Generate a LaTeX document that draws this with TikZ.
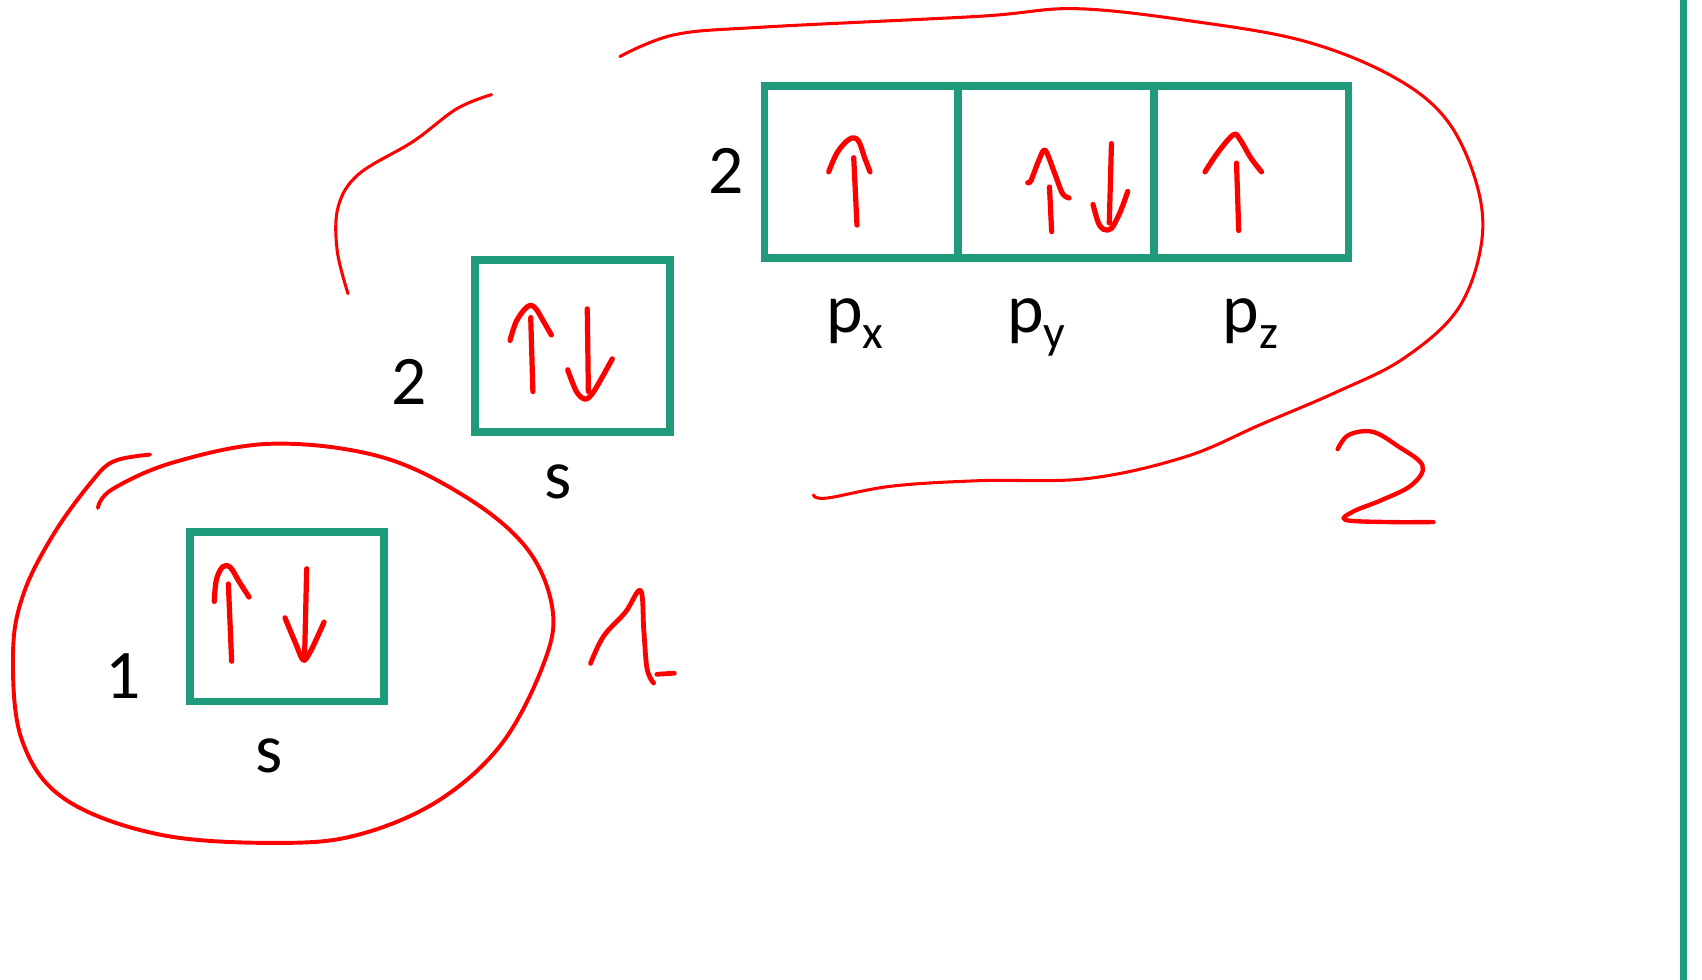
\documentclass[tikz,border=0pt]{standalone}
\usepackage{fontspec}
\setmainfont{Carlito}
\definecolor{grn}{RGB}{31,154,122}
\definecolor{rd}{RGB}{255,0,0}
\begin{document}
\begin{tikzpicture}[x=0.5pt,y=-0.5pt,
  gbox/.style={draw=grn,line width=3.6pt,inner sep=0pt,outer sep=0pt},
  lbl/.style={inner sep=0pt,font=\fontsize{32}{36}\selectfont,anchor=base},
  ink/.style={draw=rd,line width=1.6pt,line cap=round,line join=round},
  spin/.style={draw=rd,line width=2.4pt,line cap=round,line join=round}]
\useasboundingbox (0,0) rectangle (1565,901);
% green divider line
\coordinate (vt) at (1548,0);
\coordinate (vb) at (1548,901);
\draw[grn,line width=3.2pt] (vt) -- (vb);
% boxes
\node[gbox,minimum width=89pt,minimum height=78pt] (b1) at (264,567) {};
\node[gbox,minimum width=89.5pt,minimum height=79pt] (b2) at (526.5,318) {};
\node[gbox,minimum width=89pt,minimum height=79pt] (px) at (792,158) {};
\node[gbox,minimum width=90pt,minimum height=79pt] (py) at (971,158) {};
\node[gbox,minimum width=89.5pt,minimum height=79pt] (pz) at (1150.5,158) {};
% labels
\node[lbl] (n1) at (113,642) {1};
\node[lbl] (s1) at (247,710) {s};
\node[lbl] (n2) at (376,372) {2};
\node[lbl] (s2) at (513,458) {s};
\node[lbl] (n3) at (668,178) {2};
\node[lbl] (lx) at (786,306) {p{\fontsize{22}{22}\selectfont\raisebox{-0.32em}{x}}};
\node[lbl] (ly) at (953,306) {p{\fontsize{22}{22}\selectfont\raisebox{-0.32em}{y}}};
\node[lbl] (lz) at (1150,306) {p{\fontsize{22}{22}\selectfont\raisebox{-0.32em}{z}}};
% spins in 1s
\draw[spin] (213,608) -- (210,537);
\draw[spin] plot[smooth,tension=0.6] coordinates {(197,553) (199,533) (205,521) (212,522) (220,535) (229,549)};
\draw[spin] (282,523) -- (280,607);
\draw[spin] plot[smooth,tension=0.5] coordinates {(262,568) (272,592) (279,607) (286,598) (298,572)};
% spins in 2s
\draw[spin] (490,360) -- (488,292);
\draw[spin] plot[smooth,tension=0.6] coordinates {(469,313) (475,295) (485,282) (492,283) (500,296) (507,308)};
\draw[spin] (540,284) -- (541,360);
\draw[spin] plot[smooth,tension=0.5] coordinates {(522,340) (530,360) (538,367) (546,360) (563,330)};
% spins in p
\draw[spin] (788,207) -- (785,145);
\draw[spin] plot[smooth,tension=0.6] coordinates {(762,158) (770,140) (781,128) (789,129) (795,145) (800,158)};
\draw[spin] (967,213) -- (965,172);
\draw[spin] plot[smooth,tension=0.5] coordinates {(945,168) (948,166) (955,148) (961,138) (970,160) (977,178) (983,182)};
\draw[spin] (1022,132) -- (1020,205);
\draw[spin] plot[smooth,tension=0.5] coordinates {(1005,188) (1010,205) (1015,211) (1022,210) (1030,195) (1037,176)};
\draw[spin] (1139,212) -- (1137,150);
\draw[spin] plot[smooth,tension=0.6] coordinates {(1108,158) (1120,140) (1134,124) (1140,128) (1150,145) (1160,158)};
% loop around 1s
\draw[ink,line width=1.8pt] plot[smooth,tension=0.6] coordinates {(138,418) (105,424) (85,442) (50,490) (22,545) (12,600) (20,680) (60,735) (150,768) (265,775) (335,766) (405,735) (462,683) (500,610) (508,560) (485,505) (430,458) (350,420) (250,408) (160,425) (103,450) (90,467)};
% handwritten 1
\draw[ink,line width=2.2pt] plot[smooth,tension=0.6] coordinates {(543,610) (555,585) (575,563) (589,543) (592,580) (595,615) (601,628)};
\draw[ink,line width=2.2pt] (604,620) -- (620,619);
% loop around 2s-2p (two strokes)
\draw[ink,line width=1.4pt] plot[smooth,tension=0.6] coordinates {(320,270) (310,230) (311,190) (330,160) (380,130) (420,100) (452,87)};
\draw[ink,line width=1.4pt] plot[smooth,tension=0.6] coordinates {(570,52) (620,32) (700,25) (900,15) (990,8) (1100,20) (1200,38) (1280,70) (1330,110) (1358,170) (1362,225) (1340,285) (1290,330) (1230,360) (1160,390) (1090,420) (1000,440) (900,442) (820,447) (760,458) (748,455)};
% handwritten 2
\draw[ink,line width=2pt] plot[smooth,tension=0.6] coordinates {(1230,413) (1240,400) (1262,397) (1285,410) (1308,428) (1298,446) (1270,460) (1245,470) (1237,478) (1275,480) (1318,480)};
\end{tikzpicture}
\end{document}
